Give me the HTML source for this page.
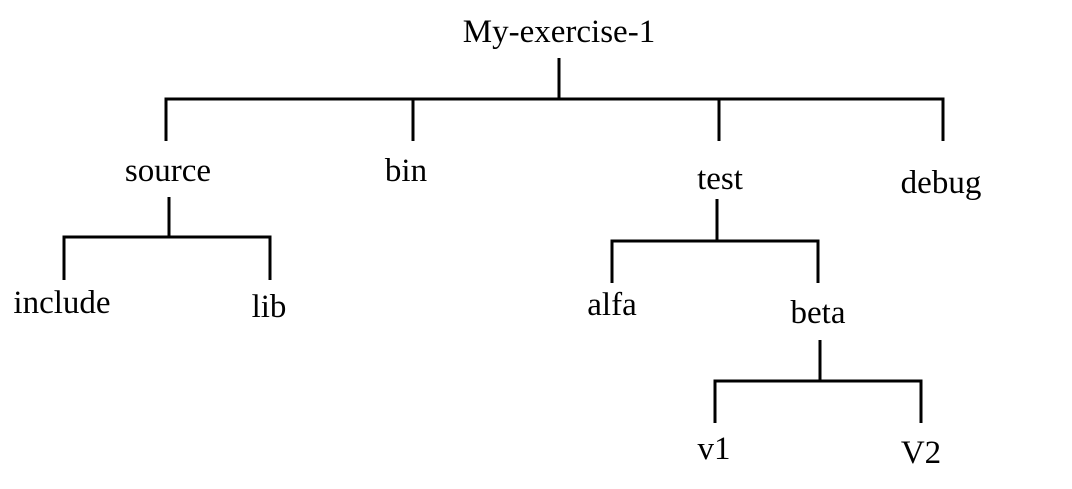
<!DOCTYPE html>
<html><head><meta charset="utf-8"><style>body{margin:0;background:#fff}</style></head><body>
<svg width="1072" height="484" xmlns="http://www.w3.org/2000/svg" font-family="Liberation Serif, serif" font-size="33" fill="#000">
<g stroke="#000" stroke-width="3" fill="none">
<path d="M559 58V99M166 141V99H943V141M413 99V141M719 99V141"/>
<path d="M169 197V237M64 280V237H270V280"/>
<path d="M717 199V241M612 283V241H818V283"/>
<path d="M820 340V381M715 423V381H921V423"/>
</g>
<g text-anchor="middle">
<text x="559" y="42">My-exercise-1</text>
<text x="168" y="181">source</text>
<text x="406" y="181">bin</text>
<text x="720" y="189">test</text>
<text x="941" y="193">debug</text>
<text x="62" y="313">include</text>
<text x="269" y="317">lib</text>
<text x="612" y="315">alfa</text>
<text x="818" y="323">beta</text>
<text x="714" y="459">v1</text>
<text x="921" y="463">V2</text>
</g>
</svg>
</body></html>
